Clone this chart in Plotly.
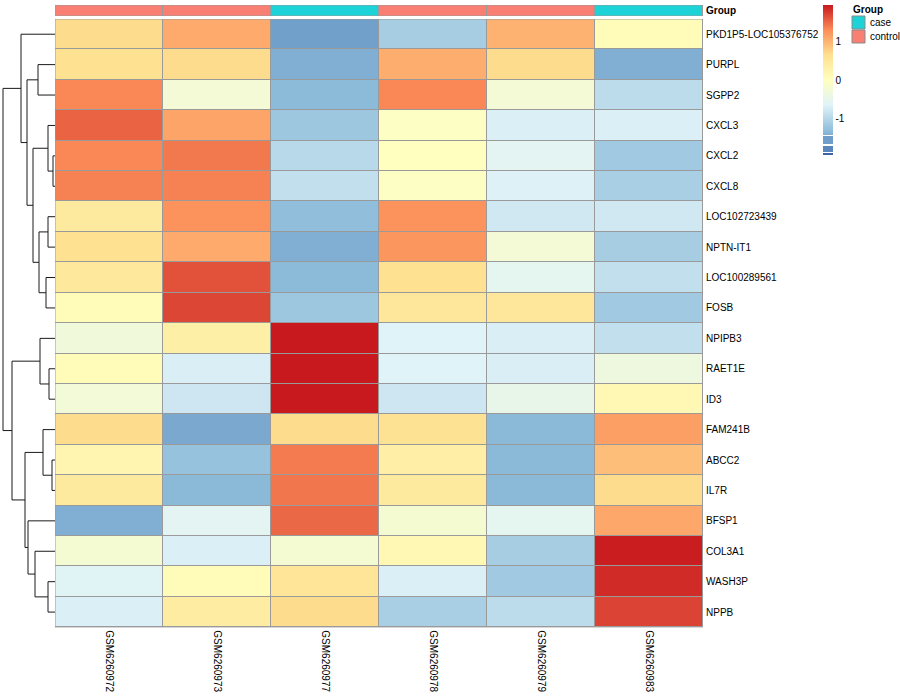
import plotly.graph_objects as go

# ---------------- data ----------------
samples = ["GSM6260972", "GSM6260973", "GSM6260977", "GSM6260978", "GSM6260979", "GSM6260983"]
groups = ["control", "control", "case", "control", "control", "case"]
genes = ["PKD1P5-LOC105376752", "PURPL", "SGPP2", "CXCL3", "CXCL2", "CXCL8",
         "LOC102723439", "NPTN-IT1", "LOC100289561", "FOSB", "NPIPB3", "RAET1E",
         "ID3", "FAM241B", "ABCC2", "IL7R", "BFSP1", "COL3A1", "WASH3P", "NPPB"]
values = [
    [0.68, 1.07, -1.57, -1.12, 1.01, 0.07],
    [0.63, 0.68, -1.44, 1.04, 0.68, -1.44],
    [1.33, -0.25, -1.34, 1.33, -0.25, -0.95],
    [1.53, 1.12, -1.20, -0.05, -0.69, -0.69],
    [1.33, 1.42, -0.98, 0.00, -0.59, -1.17],
    [1.37, 1.37, -0.90, -0.05, -0.67, -1.10],
    [0.45, 1.25, -1.30, 1.25, -0.79, -0.79],
    [0.63, 1.07, -1.44, 1.23, -0.25, -1.12],
    [0.48, 1.63, -1.34, 0.63, -0.55, -0.90],
    [0.07, 1.70, -1.20, 0.50, 0.50, -1.17],
    [-0.31, 0.33, 1.95, -0.65, -0.71, -0.90],
    [0.07, -0.71, 1.95, -0.65, -0.71, -0.36],
    [-0.27, -0.81, 1.95, -0.81, -0.48, 0.15],
    [0.68, -1.50, 0.68, 0.60, -1.35, 1.16],
    [0.20, -1.26, 1.40, 0.35, -1.35, 0.92],
    [0.45, -1.35, 1.43, 0.45, -1.35, 0.68],
    [-1.44, -0.59, 1.51, -0.20, -0.55, 1.10],
    [-0.23, -0.69, -0.23, 0.15, -1.12, 1.93],
    [-0.62, 0.07, 0.55, -0.69, -1.17, 1.85],
    [-0.70, 0.40, 0.68, -1.10, -0.95, 1.71],
]
# row dendrogram merges (scipy style: leaves 0..19 in display order, merge k -> id 20+k), with heights
row_merges = [
    (4, 5, 2), (3, 20, 7), (6, 7, 7), (8, 9, 9), (22, 23, 16), (21, 24, 22),
    (1, 2, 17), (26, 25, 28), (0, 27, 34), (11, 12, 6), (10, 29, 15),
    (14, 15, 3), (13, 31, 12), (18, 19, 7), (17, 33, 20), (16, 34, 27),
    (32, 35, 30), (30, 36, 43), (28, 37, 52),
]
group_colors = {"case": "#1DD3D8", "control": "#FA7F73"}
zlim = 1.95
colorbar_ticks = [-1, 0, 1]

# ---------------- layout helpers ----------------
W, H = 900, 700
def fx(p):
    return p / W
def fy(p):
    return 1 - p / H

HM_L, HM_R, HM_T, HM_B = 55, 703, 19, 627.3
FONT = "Liberation Sans, Arial, sans-serif"
GRID = "#9a9a9a"

colorscale = [
    [0.0, "#4575B4"], [1 / 6, "#91BFDB"], [2 / 6, "#E0F3F8"], [0.5, "#FFFFBF"],
    [4 / 6, "#FEE090"], [5 / 6, "#FC8D59"], [1.0, "#C8191E"],
]
# legend colour bar as drawn by the original (blocky low end with thin white gaps)
legend_scale = [
    [0.0, "#3F63A8"], [0.013, "#3F63A8"], [0.013, "#ffffff"], [0.02, "#ffffff"],
    [0.02, "#5A86BE"], [0.063, "#5A86BE"], [0.063, "#ffffff"], [0.07, "#ffffff"],
    [0.07, "#6F9ECB"], [0.127, "#6F9ECB"], [0.127, "#ffffff"], [0.133, "#ffffff"],
    [0.133, "#82B0D3"], [1 / 6, "#91BFDB"], [2 / 6, "#E0F3F8"], [0.5, "#FFFFBF"],
    [4 / 6, "#FEE090"], [5 / 6, "#FC8D59"], [1.0, "#C8191E"],
]

fig = go.Figure()

# main heatmap
fig.add_trace(go.Heatmap(
    z=values, x=samples, y=genes, colorscale=colorscale, zmin=-zlim, zmax=zlim,
    xgap=1, ygap=1, xaxis="x", yaxis="y", hoverinfo="x+y+z", showscale=False,
))

# colour legend (heatmap placed outside its hidden axis range, carrying only the colour bar)
fig.add_trace(go.Heatmap(
    z=[[0.0]], x=[0], y=[0], colorscale=legend_scale, zmin=-zlim, zmax=zlim,
    xaxis="x4", yaxis="y4", hoverinfo="skip", showscale=True,
    colorbar=dict(
        x=fx(823), xanchor="left", y=fy(5), yanchor="top",
        len=150 / H, lenmode="fraction", thickness=10, thicknessmode="pixels",
        outlinewidth=0, tickvals=colorbar_ticks, ticktext=[str(t) for t in colorbar_ticks],
        ticks="", tickfont=dict(family=FONT, size=10, color="#000"), xpad=0, ypad=0,
    ),
))

# group annotation bar
group_levels = ["control", "case"]
gz = [[group_levels.index(g) for g in groups]]
fig.add_trace(go.Heatmap(
    z=gz, x=samples, y=["Group"], zmin=0, zmax=1,
    colorscale=[[0, group_colors["control"]], [0.5, group_colors["control"]],
                [0.5, group_colors["case"]], [1, group_colors["case"]]],
    showscale=False, xgap=1, ygap=0, xaxis="x2", yaxis="y2",
    text=[groups], hoverinfo="x+text",
))

# dendrogram
n_leaves = len(genes)
pos = {i: float(i) for i in range(n_leaves)}
hgt = {i: 0.0 for i in range(n_leaves)}
dx, dy = [], []
for k, (a, b, h) in enumerate(row_merges):
    nid = n_leaves + k
    dx += [hgt[a], h, h, hgt[b], None]
    dy += [pos[a], pos[a], pos[b], pos[b], None]
    pos[nid] = (pos[a] + pos[b]) / 2
    hgt[nid] = h
fig.add_trace(go.Scatter(
    x=dx, y=dy, mode="lines", line=dict(color="#1a1a1a", width=1),
    xaxis="x3", yaxis="y3", hoverinfo="skip", showlegend=False,
))

shapes = []
# grey background / borders for heatmap
shapes.append(dict(type="rect", xref="x", yref="y", x0=-0.5, x1=5.5, y0=-0.5, y1=19.5,
                   fillcolor=GRID, line=dict(color=GRID, width=1), layer="below"))
shapes.append(dict(type="rect", xref="x", yref="y", x0=-0.5, x1=5.5, y0=-0.5, y1=19.5,
                   fillcolor="rgba(0,0,0,0)", line=dict(color=GRID, width=1), layer="above"))
shapes.append(dict(type="rect", xref="x2", yref="y2", x0=-0.5, x1=5.5, y0=-0.5, y1=0.5,
                   fillcolor=GRID, line=dict(color=GRID, width=1), layer="below"))
shapes.append(dict(type="rect", xref="x2", yref="y2", x0=-0.5, x1=5.5, y0=-0.5, y1=0.5,
                   fillcolor="rgba(0,0,0,0)", line=dict(color=GRID, width=1), layer="above"))

# group legend
annotations = [dict(x=fx(851), y=fy(10), xref="paper", yref="paper", text="<b>Group</b>",
                    showarrow=False, xanchor="left", yanchor="middle",
                    font=dict(family=FONT, size=10, color="#000"))]
for i, lvl in enumerate(["case", "control"]):
    top = 16 + i * 14
    shapes.append(dict(type="rect", xref="paper", yref="paper",
                       x0=fx(852), x1=fx(865), y0=fy(top), y1=fy(top + 13),
                       fillcolor=group_colors[lvl], line=dict(color="#8a8a8a", width=1)))
    annotations.append(dict(x=fx(868), y=fy(top + 6.5), xref="paper", yref="paper", text=lvl,
                            showarrow=False, xanchor="left", yanchor="middle",
                            font=dict(family=FONT, size=10, color="#000")))

ax_common = dict(showgrid=False, zeroline=False, showline=False)
fig.update_layout(
    width=W, height=H, margin=dict(l=0, r=0, t=0, b=0),
    paper_bgcolor="white", plot_bgcolor="white", showlegend=False,
    font=dict(family=FONT, size=10, color="#000"),
    xaxis=dict(domain=[fx(HM_L), fx(HM_R)], range=[-0.5, 5.5], anchor="y",
               tickangle=90, ticks="", ticklabelstandoff=2,
               tickfont=dict(family=FONT, size=10, color="#000"), **ax_common),
    yaxis=dict(domain=[fy(HM_B), fy(HM_T)], range=[19.5, -0.5], anchor="x", side="right",
               ticks="", ticklabelstandoff=2,
               tickfont=dict(family=FONT, size=10, color="#000"), **ax_common),
    xaxis2=dict(domain=[fx(HM_L), fx(HM_R)], range=[-0.5, 5.5], anchor="y2",
                showticklabels=False, ticks="", **ax_common),
    yaxis2=dict(domain=[fy(16), fy(5)], range=[0.5, -0.5], anchor="x2", side="right",
                tickvals=["Group"], ticktext=["<b>Group</b>"], ticks="", ticklabelstandoff=2,
                tickfont=dict(family=FONT, size=10, color="#000"), **ax_common),
    xaxis3=dict(domain=[0, fx(HM_L)], range=[55, 0], anchor="y3",
                showticklabels=False, ticks="", **ax_common),
    yaxis3=dict(domain=[fy(HM_B), fy(HM_T)], range=[19.5, -0.5], anchor="x3",
                showticklabels=False, ticks="", **ax_common),
    xaxis4=dict(domain=[0.0, 0.005], range=[10, 11], anchor="y4", visible=False, **ax_common),
    yaxis4=dict(domain=[0.0, 0.005], range=[10, 11], anchor="x4", visible=False, **ax_common),
    shapes=shapes, annotations=annotations,
)

fig.write_html("out.html", config={"displayModeBar": False},
               post_script="document.body.style.margin='0';document.body.style.overflow='hidden';")
